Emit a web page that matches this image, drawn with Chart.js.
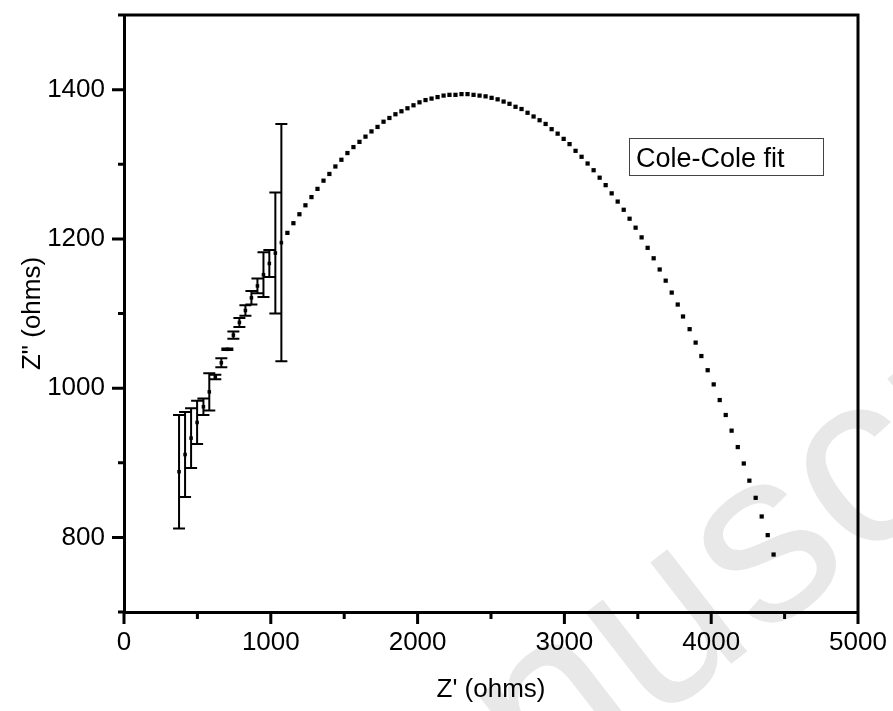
<!DOCTYPE html>
<html><head><meta charset="utf-8">
<script src="https://cdn.jsdelivr.net/npm/chart.js@4.4.1/dist/chart.umd.min.js"></script>
<style>html,body{margin:0;padding:0;background:#fff;overflow:hidden}#wrap{width:893px;height:711px}</style>
</head><body><div id="wrap"><canvas id="c" width="893" height="711"></canvas></div>
<script>
// ---- data ----
const dataX   = [375,416,457,498,541,581,622,663,704,745,786,827,868,909,950,990,1031,1072];
const dataY   = [888,911,933,954,975,995,1015,1034,1052,1071,1088,1104,1121,1137,1152,1167,1181,1195];
const dataErr = [76,57,40,29,11,25,3,6,1,5,6,7,9,10,30,18,81,159];

const fitX = [1113,1154,1195,1236,1277,1318,1359,1399,1440,1481,1522,1563,1604,1645,1686,1727,1768,1808,1849,1890,
  1931,1972,2013,2054,2095,2136,2177,2217,2258,2299,2340,2381,2422,2463,2504,2545,2586,2626,2667,2708,
  2749,2790,2831,2872,2913,2954,2995,3035,3076,3117,3158,3199,3240,3281,3322,3363,3404,3444,3485,3526,
  3567,3608,3649,3690,3731,3772,3808,3853,3894,3933,3976,4017,4058,4099,4139,4181,4222,4260,4303,4344,
  4385,4425];
const fitY = [1208,1221,1233,1245,1256,1267,1278,1287,1297,1306,1315,1323,1330,1337,1344,1350,1357,1362,1367,1371,
  1375,1379,1383,1386,1388,1390,1392,1393,1393,1394,1394,1393,1392,1391,1389,1387,1384,1381,1377,1374,
  1369,1364,1359,1354,1347,1341,1334,1327,1318,1310,1301,1292,1282,1272,1261,1250,1239,1227,1215,1202,
  1188,1174,1159,1144,1128,1112,1096,1079,1061,1043,1024,1005,984,964,943,921,899,876,853,828,
  803,777];

const xMajorTicks = [0,1000,2000,3000,4000,5000];
const xMinorTicks = [500,1500,2500,3500,4500];
const yMajorTicks = [800,1000,1200,1400];
const yMinorTicks = [700,900,1100,1300,1500];
const xTitle = "Z' (ohms)";
const yTitle = 'Z" (ohms)';
const legendText = 'Cole-Cole fit';
const watermarkText = 'Manuscript';

const FONT = "'Liberation Sans', Arial, sans-serif";

const watermark = {
  id: 'watermark',
  beforeDraw(chart) {
    const ctx = chart.ctx;
    ctx.save();
    ctx.fillStyle = '#e8e8e8';
    ctx.font = '245px ' + FONT;
    ctx.translate(276, 1017);
    ctx.rotate(-0.66);
    ctx.fillText(watermarkText, 0, 0);
    ctx.restore();
  }
};

const errorBars = {
  id: 'errorBars',
  afterDatasetsDraw(chart) {
    const {ctx, scales: {x, y}} = chart;
    ctx.save();
    ctx.strokeStyle = '#000';
    ctx.lineWidth = 2;
    ctx.beginPath();
    dataX.forEach((v, i) => {
      const px = x.getPixelForValue(v);
      const t = y.getPixelForValue(dataY[i] + dataErr[i]);
      const b = y.getPixelForValue(dataY[i] - dataErr[i]);
      ctx.moveTo(px, t); ctx.lineTo(px, b);
      ctx.moveTo(px - 6, t); ctx.lineTo(px + 6, t);
      ctx.moveTo(px - 6, b); ctx.lineTo(px + 6, b);
    });
    ctx.stroke();
    ctx.restore();
  }
};

const frame = {
  id: 'frame',
  afterDraw(chart) {
    const {ctx, chartArea: a, scales: {x, y}} = chart;
    ctx.save();
    ctx.strokeStyle = '#000';
    ctx.lineWidth = 3;
    ctx.lineCap = 'butt';
    ctx.beginPath();
    ctx.moveTo(a.left, a.top); ctx.lineTo(a.right + 1.5, a.top);
    ctx.moveTo(a.right, a.top); ctx.lineTo(a.right, a.bottom);
    yMajorTicks.forEach(v => { const p = y.getPixelForValue(v); ctx.moveTo(a.left, p); ctx.lineTo(a.left - 12, p); });
    yMinorTicks.forEach(v => { const p = y.getPixelForValue(v); ctx.moveTo(a.left, p); ctx.lineTo(a.left - 6, p); });
    xMajorTicks.forEach(v => { const p = x.getPixelForValue(v); ctx.moveTo(p, a.bottom); ctx.lineTo(p, a.bottom + 12); });
    xMinorTicks.forEach(v => { const p = x.getPixelForValue(v); ctx.moveTo(p, a.bottom); ctx.lineTo(p, a.bottom + 7); });
    ctx.stroke();
    // legend box
    ctx.lineWidth = 1;
    ctx.strokeStyle = '#444';
    ctx.strokeRect(629.5, 138.5, 194, 37);
    ctx.fillStyle = '#000';
    ctx.font = '27px ' + FONT;
    ctx.textBaseline = 'alphabetic';
    ctx.fillText(legendText, 636, 166.5);
    ctx.restore();
  }
};

new Chart(document.getElementById('c'), {
  type: 'scatter',
  data: {
    datasets: [
      {
        label: 'data',
        data: dataX.map((v, i) => ({x: v, y: dataY[i]})),
        pointStyle: 'rect', pointRadius: 2.5, pointBorderWidth: 0,
        backgroundColor: '#000', borderColor: '#000', showLine: false
      },
      {
        label: legendText,
        data: fitX.map((v, i) => ({x: v, y: fitY[i]})),
        pointStyle: 'rect', pointRadius: 3, pointBorderWidth: 0,
        backgroundColor: '#000', borderColor: '#000', showLine: false
      }
    ]
  },
  options: {
    responsive: false,
    animation: false,
    devicePixelRatio: 1,
    layout: {padding: {top: 15, right: 35, left: 0, bottom: 0}},
    plugins: {legend: {display: false}, tooltip: {enabled: false}},
    scales: {
      x: {
        type: 'linear', min: 0, max: 5000,
        afterBuildTicks: s => { s.ticks = xMajorTicks.map(v => ({value: v})); },
        afterFit: s => { s.height = 99; s.paddingLeft = 0; s.paddingRight = 0; },
        grid: {display: false, drawTicks: true, tickLength: 12},
        border: {display: true, color: '#000', width: 3},
        ticks: {color: '#000', font: {family: FONT, size: 26}, padding: 3, maxRotation: 0, callback: v => String(v)},
        title: {display: true, text: xTitle, color: '#000', font: {family: FONT, size: 26}, padding: {top: 0, bottom: 6}}
      },
      y: {
        type: 'linear', min: 700, max: 1500,
        afterBuildTicks: s => { s.ticks = yMajorTicks.map(v => ({value: v})); },
        afterFit: s => { s.width = 124; s.paddingTop = 0; s.paddingBottom = 0; },
        grid: {display: false, drawTicks: true, tickLength: 12},
        border: {display: true, color: '#000', width: 3},
        ticks: {color: '#000', font: {family: FONT, size: 26}, padding: 7, callback: v => String(v)},
        title: {display: true, text: yTitle, color: '#000', font: {family: FONT, size: 26}, padding: {top: 17, bottom: 0}}
      }
    }
  },
  plugins: [watermark, errorBars, frame]
});
</script>
</body></html>
